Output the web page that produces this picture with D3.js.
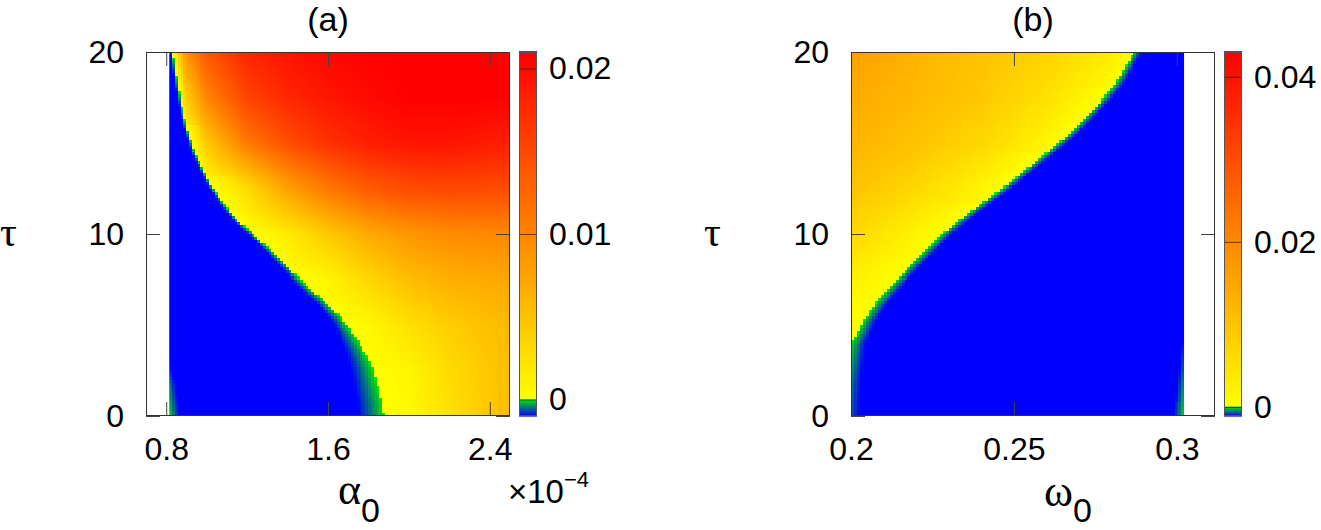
<!DOCTYPE html>
<html>

<head>
    <meta charset="utf-8">
    <style>
        body {
            margin: 0;
            background: #fff;
        }

        svg {
            display: block;
            font-family: "Liberation Sans", Arial, Helvetica, sans-serif;
        }

        .axis .domain {
            display: none;
        }

        .axis .tick line {
            stroke: #444;
        }

        .axis .tick text {
            font-size: 32px;
            fill: #000;
        }

        .cbaxis .tick line {
            stroke: #222;
            stroke-opacity: 0.75;
        }

        .greek {
            font-family: "Liberation Serif", "DejaVu Serif", serif;
        }
    </style>
</head>

<body>
    <svg width="1321" height="530"></svg>

    <script src="https://d3js.org/d3.v7.min.js"></script>
    <script>
        let svg = d3.select("svg")

        // ---------- panel (a) data : tau vs alpha_0 (x 1e-4) ----------
        let tauRows = [0, 2.5, 5, 7.5, 10, 12.5, 15, 17.5, 20]

        let alphaCols = [0.82, 0.9, 1.0, 1.2, 1.4, 1.6, 1.8, 2.0, 2.2, 2.5]

        let valuesA = [
            [0, 0, 0, 0, 0, 0, 0, 0.0004, 0.0025, 0.0056],
            [0, 0, 0, 0, 0, 0, 0, 0.0008, 0.0029, 0.0054],
            [0, 0, 0, 0, 0, 0, 0.0006, 0.0025, 0.0041, 0.0058],
            [0, 0, 0, 0, 0, 0.0008, 0.0033, 0.0054, 0.0066, 0.0072],
            [0, 0, 0, 0, 0.0016, 0.0045, 0.0070, 0.0086, 0.0095, 0.0099],
            [0, 0, 0, 0.0029, 0.0078, 0.0111, 0.0136, 0.0148, 0.0152, 0.0148],
            [0, 0, 0.0045, 0.0110, 0.0146, 0.0170, 0.0185, 0.0194, 0.0194, 0.0185],
            [0, 0.0040, 0.0100, 0.0155, 0.0178, 0.0192, 0.0202, 0.0210, 0.0210, 0.0210],
            [0, 0.0090, 0.0140, 0.0180, 0.0195, 0.0205, 0.0210, 0.0210, 0.0210, 0.0210]
        ]

        // zero line (edge of the blue region)
        let boundTauA = [0, 0.77, 1.68, 2.6, 3.52, 4.43, 5.35, 6.26, 7.18, 8.1, 9.01, 9.93, 10.84, 11.76, 12.67, 14.5, 16.34, 18.17, 20]
        let boundAlphaA = [1.879, 1.867, 1.846, 1.821, 1.780, 1.730, 1.672, 1.590, 1.491, 1.409, 1.326, 1.236, 1.145, 1.079, 1.021, 0.939, 0.890, 0.857, 0.832]

        // width of the green->blue band below zero
        let bandTauA = [0, 2.5, 5, 7.5, 10, 12.5, 15, 20]
        let bandWidthA = [0.13, 0.11, 0.065, 0.04, 0.025, 0.016, 0.014, 0.013]

        // value at the left data edge (small green strip at low tau)
        let leftTauA = [0, 1.7, 2.6, 3.5]
        let leftValA = [0, -0.0004, -0.0008, -0.001]

        let alphaRange = [0.815, 2.5]

        // ---------- panel (b) data : tau vs omega_0 ----------
        let omegaCols = [0.2, 0.21, 0.22, 0.24, 0.26, 0.28, 0.30]

        let valuesB = [
            [0, 0, 0, 0, 0, 0, 0],
            [0, 0, 0, 0, 0, 0, 0],
            [0.0005, 0, 0, 0, 0, 0, 0],
            [0.0025, 0.0006, 0, 0, 0, 0, 0],
            [0.0067, 0.0042, 0.0017, 0, 0, 0, 0],
            [0.0101, 0.0085, 0.0067, 0.0017, 0, 0, 0],
            [0.0126, 0.0115, 0.0101, 0.0067, 0.0017, 0, 0],
            [0.0143, 0.0130, 0.0118, 0.0093, 0.0050, 0, 0],
            [0.0160, 0.0143, 0.0126, 0.0101, 0.0076, 0.0030, 0]
        ]

        let boundTauB = [0, 1.7, 3.5, 3.97, 4.43, 5.35, 6.26, 7.18, 8.1, 9.01, 9.93, 10.84, 11.76, 12.67, 13.59, 14.5, 15.42, 16.34, 17.25, 18.17, 19.08, 20]
        let boundOmegaB = [0.1964, 0.1975, 0.1995, 0.2, 0.2015, 0.2041, 0.2077, 0.2123, 0.2174, 0.2225, 0.2276, 0.2337, 0.2404, 0.2475, 0.2542, 0.2603, 0.2665, 0.2716, 0.2762, 0.2808, 0.2838, 0.2869]

        let bandTauB = [0, 5, 10, 15, 20]
        let bandWidthB = [0.006, 0.004, 0.003, 0.0026, 0.0025]

        // value at the right data edge (green strip at low tau)
        let rightTauB = [0, 2, 4, 5]
        let rightValB = [0, -0.0004, -0.0009, -0.0011]

        let omegaRange = [0.2, 0.3022]

        // ticks
        let tauTicks = [0, 10, 20]
        let alphaTicks = [0.8, 1.6, 2.4]
        let omegaTicks = [0.2, 0.25, 0.3]
        let cbTicksA = [0, 0.01, 0.02]
        let cbTicksB = [0, 0.02, 0.04]
        let cbDomainA = [-0.001, 0.021]
        let cbDomainB = [-0.0011, 0.043]

        // ---------- layout ----------
        let plotTop = 52, plotBottom = 416
        let panelA = { left: 146, right: 510, cb: 519 }
        let panelB = { left: 851, right: 1215, cb: 1224 }
        let cbWidth = 18
        let tickLen = 14

        let y = d3.scaleLinear().domain([0, 20]).range([plotBottom, plotTop])
        let xA = d3.scaleLinear().domain([0.7, 2.5]).range([panelA.left, panelA.right])
        let xB = d3.scaleLinear().domain([0.2, 0.3117]).range([panelB.left, panelB.right])

        function colorFor(dom) {
            let pos = d3.scaleLinear().domain([0, dom[1]]).range(["#ffff00", "#ff0000"]).clamp(true)
            let neg = d3.scaleLinear().domain([dom[0], 0]).range(["#0000ff", "#00e600"]).clamp(true)
            return v => v >= 0 ? pos(v) : neg(v)
        }

        let lin = (xs, ys) => d3.scaleLinear().domain(xs).range(ys).clamp(true)

        // column scales: value of each grid column as a function of tau
        function columnScales(values, ncols) {
            return d3.range(ncols).map(i => lin(tauRows, values.map(r => r[i])))
        }

        let colsA = columnScales(valuesA, alphaCols.length)
        let colsB = columnScales(valuesB, omegaCols.length)

        let boundA = lin(boundTauA, boundAlphaA)
        let bandA = lin(bandTauA, bandWidthA)
        let leftA = lin(leftTauA, leftValA)
        let boundB = lin(boundTauB, boundOmegaB)
        let bandB = lin(bandTauB, bandWidthB)
        let rightB = lin(rightTauB, rightValB)

        function valueA(a, t) {
            let b = boundA(t)
            if (a >= b) {
                let xs = [b], vs = [0]
                alphaCols.forEach((c, i) => { if (c > b) { xs.push(c); vs.push(colsA[i](t)) } })
                if (xs.length < 2) return 0
                return lin(xs, vs)(a)
            }
            let v = cbDomainA[0] * Math.min(1, (b - a) / bandA(t))
            let vl = Math.max(cbDomainA[0], leftA(t) - (a - alphaRange[0]) / 0.05 * 0.001)
            return Math.max(v, vl)
        }

        function valueB(w, t) {
            let b = boundB(t)
            if (w <= b) {
                let xs = [], vs = []
                omegaCols.forEach((c, i) => { if (c < b) { xs.push(c); vs.push(colsB[i](t)) } })
                xs.push(b); vs.push(0)
                if (xs.length < 2) return 0
                return lin(xs, vs)(w)
            }
            let v = cbDomainB[0] * Math.min(1, (w - b) / bandB(t))
            let vr = Math.max(cbDomainB[0], rightB(t) - (omegaRange[1] - w) / 0.003 * 0.0011)
            return Math.max(v, vr)
        }

        function drawMap(g, x, range, nx, ny, valueFn, color) {
            let canvas = document.createElement("canvas")
            canvas.width = nx
            canvas.height = ny
            let ctx = canvas.getContext("2d")
            let dx = (range[1] - range[0]) / nx
            let dt = 20 / ny
            for (let j = 0; j < ny; j++) {
                let t = 20 - (j + 0.5) * dt
                for (let i = 0; i < nx; i++) {
                    let a = range[0] + (i + 0.5) * dx
                    ctx.fillStyle = color(valueFn(a, t))
                    ctx.fillRect(i, j, 1, 1)
                }
            }
            g.append("image")
                .attr("x", x(range[0]))
                .attr("y", y(20))
                .attr("width", x(range[1]) - x(range[0]))
                .attr("height", y(0) - y(20))
                .attr("preserveAspectRatio", "none")
                .style("image-rendering", "pixelated")
                .attr("href", canvas.toDataURL())
        }

        function drawAxes(g, x, p, xticks) {
            g.append("g")
                .attr("class", "axis")
                .attr("transform", `translate(0,${plotBottom})`)
                .call(d3.axisBottom(x).tickValues(xticks).tickSize(-tickLen).tickPadding(21).tickFormat(d3.format("~g")))

            g.append("g")
                .attr("class", "axis")
                .attr("transform", `translate(0,${plotTop})`)
                .call(d3.axisTop(x).tickValues(xticks).tickSize(-tickLen).tickFormat(""))

            g.append("g")
                .attr("class", "axis")
                .attr("transform", `translate(${p.left},0)`)
                .call(d3.axisLeft(y).tickValues(tauTicks).tickSize(-tickLen).tickPadding(22).tickFormat(d3.format("d")))

            g.append("g")
                .attr("class", "axis")
                .attr("transform", `translate(${p.right},0)`)
                .call(d3.axisRight(y).tickValues(tauTicks).tickSize(-tickLen).tickFormat(""))

            g.append("rect")
                .attr("x", p.left + 0.5)
                .attr("y", plotTop + 0.5)
                .attr("width", p.right - p.left - 1)
                .attr("height", plotBottom - plotTop - 1)
                .attr("fill", "none")
                .attr("stroke", "#333")
        }

        function drawColorbar(g, p, dom, ticks, color) {
            let cb = d3.scaleLinear().domain(dom).range([plotBottom, plotTop])
            let steps = d3.range(0, 365).map(k => dom[0] + (dom[1] - dom[0]) * k / 364)
            g.append("g")
                .selectAll("rect")
                .data(steps)
                .join("rect")
                .attr("x", p.cb)
                .attr("y", d => cb(d) - 1)
                .attr("width", cbWidth)
                .attr("height", 1.6)
                .attr("fill", d => color(d))

            g.append("g")
                .attr("class", "axis cbaxis")
                .attr("transform", `translate(${p.cb + cbWidth},0)`)
                .call(d3.axisRight(cb).tickValues(ticks).tickSize(-cbWidth).tickPadding(12).tickFormat(d3.format("~g")))

            g.append("rect")
                .attr("x", p.cb + 0.5)
                .attr("y", plotTop + 0.5)
                .attr("width", cbWidth - 1)
                .attr("height", plotBottom - plotTop - 1)
                .attr("fill", "none")
                .attr("stroke", "#555")
        }

        let gA = svg.append("g")
        let gB = svg.append("g")

        let colorA = colorFor(cbDomainA)
        let colorB = colorFor(cbDomainB)

        drawMap(gA, xA, alphaRange, 120, 120, valueA, colorA)
        drawMap(gB, xB, omegaRange, 112, 120, valueB, colorB)

        drawAxes(gA, xA, panelA, alphaTicks)
        drawAxes(gB, xB, panelB, omegaTicks)

        drawColorbar(gA, panelA, cbDomainA, cbTicksA, colorA)
        drawColorbar(gB, panelB, cbDomainB, cbTicksB, colorB)

        // titles
        svg.append("text")
            .attr("x", (panelA.left + panelA.right) / 2)
            .attr("y", 31)
            .attr("text-anchor", "middle")
            .style("font-size", "34px")
            .text("(a)")

        svg.append("text")
            .attr("x", (panelB.left + panelB.right) / 2)
            .attr("y", 31)
            .attr("text-anchor", "middle")
            .style("font-size", "34px")
            .text("(b)")

        // tau labels
        svg.append("text")
            .attr("class", "greek")
            .attr("x", 0)
            .attr("y", 246)
            .style("font-size", "42px")
            .text("τ")

        svg.append("text")
            .attr("class", "greek")
            .attr("x", 704)
            .attr("y", 246)
            .style("font-size", "42px")
            .text("τ")

        // x labels
        let xlabA = svg.append("text")
            .attr("x", 338)
            .attr("y", 504)
        xlabA.append("tspan").attr("class", "greek").style("font-size", "44px").text("α")
        xlabA.append("tspan").attr("dy", 18).style("font-size", "34px").text("0")

        let xlabB = svg.append("text")
            .attr("x", 1044)
            .attr("y", 506)
        xlabB.append("tspan").attr("class", "greek").style("font-size", "44px").text("ω")
        xlabB.append("tspan").attr("dy", 16).style("font-size", "34px").text("0")

        // multiplier for alpha axis
        let mult = svg.append("text")
            .attr("x", 508)
            .attr("y", 503)
            .style("font-size", "33px")
        mult.append("tspan").text("×10")
        mult.append("tspan").attr("dy", -16).style("font-size", "22px").text("−4")
    </script>
</body>

</html>
